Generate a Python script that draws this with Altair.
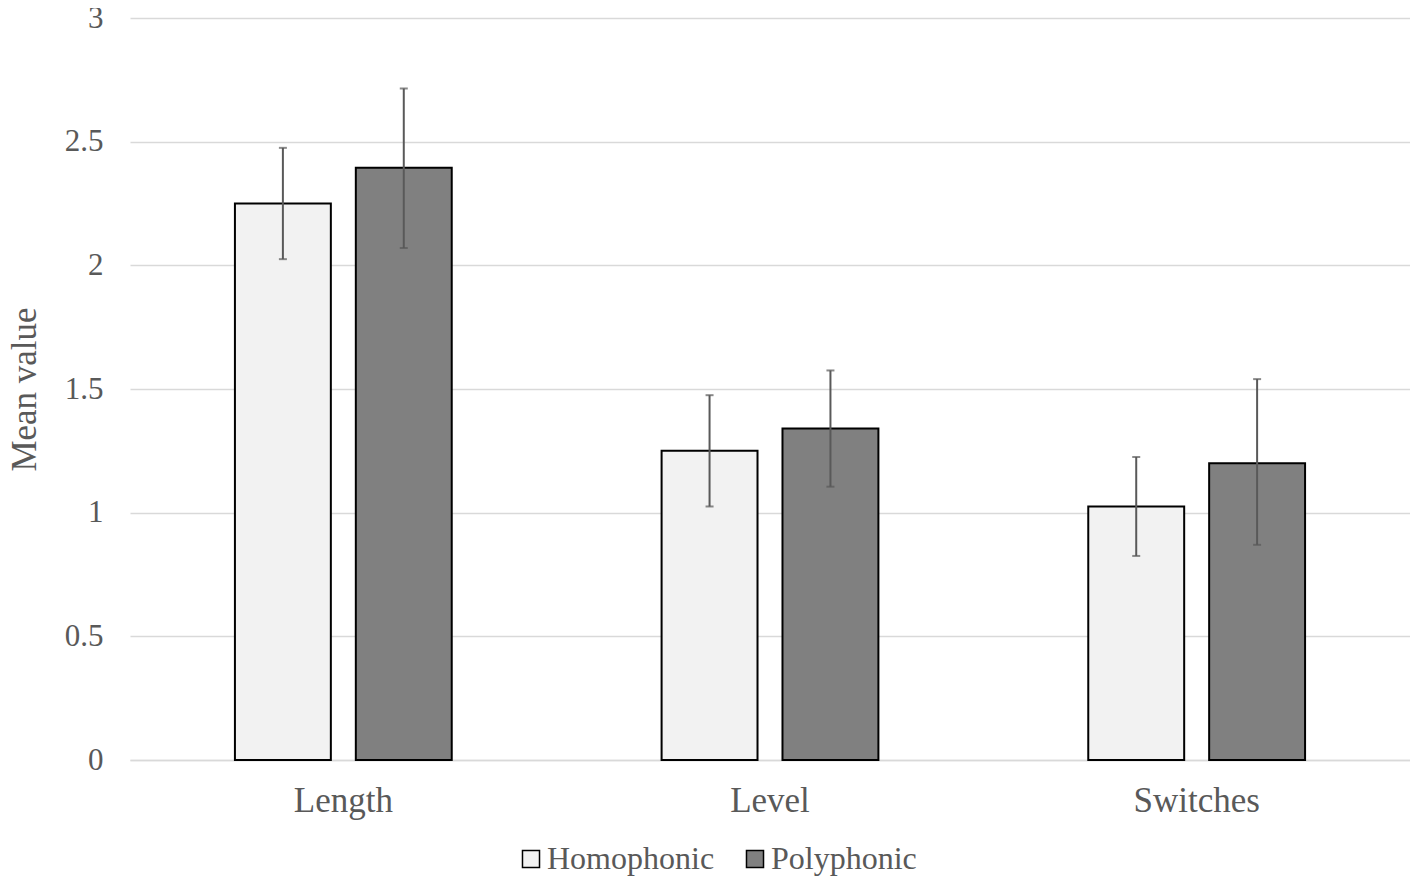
import altair as alt
import pandas as pd

categories = ["Length", "Level", "Switches"]
groups = ["Homophonic", "Polyphonic"]
homo_mean = [2.25, 1.25, 1.025]
homo_low = [2.025, 1.025, 0.825]
homo_high = [2.475, 1.475, 1.225]
poly_mean = [2.395, 1.34, 1.20]
poly_low = [2.07, 1.105, 0.87]
poly_high = [2.715, 1.575, 1.54]
fill_colors = ["#f2f2f2", "#808080"]

rows = []
for i, c in enumerate(categories):
    rows.append({"cat": c, "grp": groups[0], "mean": homo_mean[i], "lo": homo_low[i], "hi": homo_high[i]})
    rows.append({"cat": c, "grp": groups[1], "mean": poly_mean[i], "lo": poly_low[i], "hi": poly_high[i]})
df = pd.DataFrame(rows)

FONT = "Liberation Serif"
TXT = "#595959"

x = alt.X("cat:N", sort=categories, title=None,
          scale=alt.Scale(paddingInner=0, paddingOuter=0),
          axis=alt.Axis(labelAngle=0, labelFontSize=35, labelFont=FONT, labelColor=TXT,
                        labelPadding=23, ticks=False, domainColor="#d9d9d9", domainWidth=1.5,
                        grid=False))
xo = alt.XOffset("grp:N", sort=groups, scale=alt.Scale(paddingInner=0.2066, paddingOuter=0.868))

base = alt.Chart(df)

bars = base.mark_bar(stroke="black", strokeWidth=2).encode(
    x=x, xOffset=xo,
    y=alt.Y("mean:Q", title="Mean value",
            scale=alt.Scale(domain=[0, 3], nice=False),
            axis=alt.Axis(values=[0, 0.5, 1, 1.5, 2, 2.5, 3], format="~g",
                          labelFontSize=31, labelFont=FONT, labelColor=TXT, labelPadding=27,
                          titleFontSize=35, titleFont=FONT, titleColor=TXT, titleFontWeight="normal",
                          titlePadding=22, ticks=False, domain=False,
                          gridColor="#d9d9d9", gridWidth=1.5)),
    fill=alt.Fill("grp:N", sort=groups, title=None,
                  scale=alt.Scale(domain=groups, range=fill_colors),
                  legend=alt.Legend(orient="none", legendX=385, legendY=825, direction="horizontal",
                                    symbolType="square", symbolSize=290, symbolStrokeColor="black",
                                    symbolStrokeWidth=1.5, labelFontSize=32, labelFont=FONT,
                                    labelColor=TXT, labelOffset=0, columnPadding=24, labelLimit=0)),
)

rules = base.mark_rule(color=TXT, strokeWidth=2).encode(
    x=x, xOffset=xo, y="lo:Q", y2="hi:Q")
cap_hi = base.mark_tick(color=TXT, thickness=2, size=8).encode(x=x, xOffset=xo, y="hi:Q")
cap_lo = base.mark_tick(color=TXT, thickness=2, size=8).encode(x=x, xOffset=xo, y="lo:Q")

chart = alt.layer(bars, rules, cap_hi, cap_lo).properties(
    width=1280, height=742,
    autosize=alt.AutoSizeParams(type="none"),
    padding={"left": 122, "top": 10, "right": 0, "bottom": 118},
    background="white",
).configure_view(stroke=None)

chart.save("out.html", embed_options={"renderer": "svg", "actions": False})
